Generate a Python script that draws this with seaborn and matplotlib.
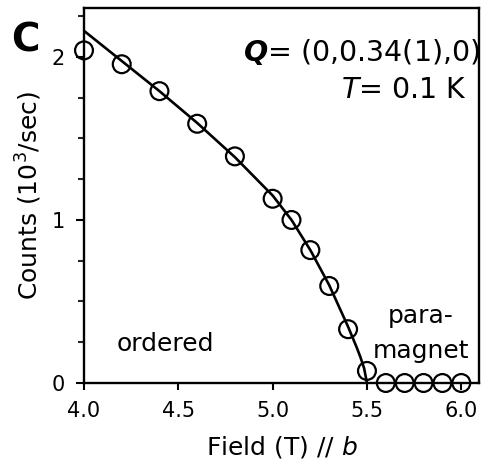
import matplotlib
matplotlib.use("Agg")
import matplotlib.pyplot as plt
import seaborn as sns
import pandas as pd
from matplotlib.ticker import MultipleLocator, FixedLocator

# Data
field = [4.0, 4.2, 4.4, 4.6, 4.8, 5.0, 5.1, 5.2, 5.3, 5.4, 5.5, 5.6, 5.7, 5.8, 5.9, 6.0]
counts = [2.04, 1.955, 1.79, 1.59, 1.39, 1.13, 1.00, 0.815, 0.595, 0.33, 0.074, 0.0, 0.0, 0.0, 0.0, 0.0]

fit_field = [4.0, 4.2, 4.4, 4.6, 4.8, 5.0, 5.1, 5.2, 5.3, 5.4, 5.445, 5.465, 5.485, 5.5]
fit_counts = [2.16, 1.975, 1.79, 1.595, 1.385, 1.15, 1.0, 0.815, 0.60, 0.345, 0.22, 0.16, 0.09, 0.0]

xticks = [4.0, 4.5, 5.0, 5.5, 6.0]
xticklabels = ["4.0", "4.5", "5.0", "5.5", "6.0"]
yticks = [0, 1, 2]
yticklabels = ["0", "1", "2"]

sns.set_theme(style="ticks")
plt.rcParams["font.family"] = ["DejaVu Sans"]
plt.rcParams["mathtext.fontset"] = "dejavusans"

fig = plt.figure(figsize=(4.98, 4.62), dpi=100)
ax = fig.add_axes([84 / 498, 79 / 462, 395 / 498, 375 / 462])

pts = pd.DataFrame({"field": field, "counts": counts})
fit = pd.DataFrame({"field": fit_field, "counts": fit_counts})

sns.lineplot(data=fit, x="field", y="counts", ax=ax, color="black", lw=1.9,
             sort=False, estimator=None, zorder=2)
sns.scatterplot(data=pts, x="field", y="counts", ax=ax, marker="o", s=165,
                facecolors="none", edgecolor="black", linewidth=1.6,
                clip_on=False, zorder=3)

ax.set_xlim(4.0, 6.094)
ax.set_ylim(0, 2.30)

ax.xaxis.set_major_locator(FixedLocator(xticks))
ax.set_xticklabels(xticklabels)
ax.yaxis.set_major_locator(FixedLocator(yticks))
ax.set_yticklabels(yticklabels)
ax.yaxis.set_minor_locator(MultipleLocator(0.25))

for s in ax.spines.values():
    s.set_linewidth(1.7)
    s.set_color("black")
    s.set_visible(True)

ax.tick_params(axis="x", which="major", direction="out", length=5, width=1.5,
               labelsize=15, pad=8, colors="black")
ax.tick_params(axis="y", which="major", direction="out", length=6, width=1.5,
               labelsize=15, pad=8, colors="black")
ax.tick_params(axis="y", which="minor", direction="out", length=4, width=1.5)
ax.tick_params(top=False, right=False)

ax.set_xlabel(r"Field (T) $\mathit{//\ b}$", fontsize=18, labelpad=9, color="black")
ax.set_ylabel(r"Counts (10$^{3}$/sec)", fontsize=18, labelpad=5, color="black")

ax.text(1.0025, 0.859, r"$\mathbfit{Q}$= (0,0.34(1),0)", transform=ax.transAxes,
        ha="right", va="baseline", fontsize=20.5, color="black")
ax.text(0.970, 0.760, r"$T$= 0.1 K", transform=ax.transAxes,
        ha="right", va="baseline", fontsize=20.5, color="black")
ax.text(0.0835, 0.0853, "ordered", transform=ax.transAxes,
        ha="left", va="baseline", fontsize=18, color="black")
ax.text(0.853, 0.160, "para-", transform=ax.transAxes,
        ha="center", va="baseline", fontsize=18, color="black")
ax.text(0.853, 0.0667, "magnet", transform=ax.transAxes,
        ha="center", va="baseline", fontsize=18, color="black")

fig.text(25 / 498, 1 - 40 / 462, "C", ha="center", va="center",
         fontsize=28, fontweight="bold", color="black")

fig.savefig("out.png", dpi=100)
